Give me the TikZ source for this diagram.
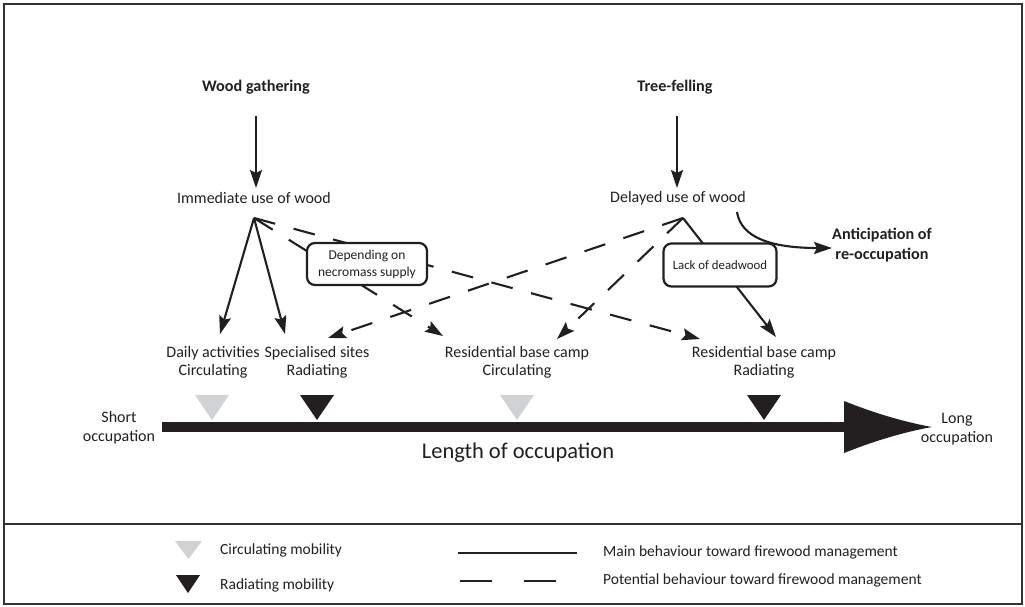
\documentclass[tikz,border=0pt]{standalone}
\usepackage{fontspec}
\setmainfont{Carlito}
\usetikzlibrary{arrows.meta}
\definecolor{ink}{HTML}{231F20}
\definecolor{lgray}{HTML}{D1D2D4}
\definecolor{frame}{HTML}{333333}
\begin{document}
\begin{tikzpicture}[x=1pt,y=-1pt,
  lbl/.style={font=\fontsize{16}{18}\selectfont, align=center, inner sep=0pt, text=ink},
  ttl/.style={font=\bfseries\fontsize{16.2}{20}\selectfont, align=center, inner sep=0pt, text=ink},
  occ/.style={font=\fontsize{16}{19}\selectfont, align=center, inner sep=0pt, text=ink},
  leg/.style={font=\fontsize{15.5}{18}\selectfont, inner sep=0pt, text=ink, anchor=west},
  main/.style={draw=ink, line width=2.1pt, -{Stealth[length=18pt,width=12pt,inset=3pt]}},
  pot/.style={main, dash pattern=on 22pt off 19pt},
  cbox/.style={draw=ink, line width=2.2pt, rounded corners=8pt, fill=white, align=center, inner sep=0pt, text=ink},
  circ/.style={fill=lgray},
  radi/.style={fill=ink}
]
\useasboundingbox (0,0) rectangle (1025,606);
\draw[frame, line width=2pt] (4,4) rectangle (1022,604);
\draw[frame, line width=2pt] (4,524) -- (1022,524);

% titles and intermediate texts
\node[ttl] (wg) at (256,87) {Wood gathering};
\node[ttl] (tf) at (675,87) {Tree-felling};
\node[lbl] (imm) at (254,198) {Immediate use of wood};
\node[lbl] (del) at (678,198) {Delayed use of wood};
\node[ttl] (ant) at (882,245) {Anticipation of\\re-occupation};

% target labels
\node[lbl] (daily) at (213,362) {Daily activities\\Circulating};
\node[lbl] (spec) at (317,362) {Specialised sites\\Radiating};
\node[lbl] (rbc) at (517,362) {Residential base camp\\Circulating};
\node[lbl] (rbr) at (764,362) {Residential base camp\\Radiating};

% connector end points
\coordinate (wg-s) at (256,116);
\coordinate (imm-n) at (256,188);
\coordinate (tf-s) at (677,116);
\coordinate (del-n) at (677,188);
\coordinate (imm-o) at (254,218);
\coordinate (del-o) at (683,218);
\coordinate (daily-t) at (220,334);
\coordinate (spec-t) at (285,334);
\coordinate (spec-t2) at (328,338);
\coordinate (rbc-t) at (443,336);
\coordinate (rbc-t2) at (557,339);
\coordinate (rbr-t) at (700,339);
\coordinate (rbr-t2) at (776,337);
\coordinate (ant-s) at (737,212);
\coordinate (ant-e) at (832,248);

\draw[main] (wg-s) -- (imm-n);
\draw[main] (tf-s) -- (del-n);
\draw[main] (imm-o) -- (daily-t);
\draw[main] (imm-o) -- (spec-t);
\draw[pot] (imm-o) -- (rbc-t);
\draw[pot] (imm-o) -- (rbr-t);
\draw[pot] (del-o) -- (spec-t2);
\draw[pot] (del-o) -- (rbc-t2);
\draw[main] (del-o) -- (rbr-t2);
\draw[main] (ant-s) .. controls (741,238) and (772,248) .. (ant-e);

% condition boxes
\node[cbox, minimum width=120pt, minimum height=42pt, font=\fontsize{13.5}{17}\selectfont] (dep) at (367,264) {Depending on\\necromass supply};
\node[cbox, minimum width=113pt, minimum height=43pt, font=\fontsize{12.8}{15}\selectfont] (lack) at (720,265) {Lack of deadwood};

% timeline
\fill[ink] (162,422) rectangle (846,432);
\fill[ink] (844,401) .. controls (874,413) and (904,422) .. (932,427) .. controls (904,432) and (874,441) .. (844,453) -- cycle;
\fill[circ] (195,395) -- (229,395) -- (212,420) -- cycle;
\fill[radi] (300,395) -- (334,395) -- (317,420) -- cycle;
\fill[circ] (500,395) -- (534,395) -- (517,420) -- cycle;
\fill[radi] (747,395) -- (781,395) -- (764,420) -- cycle;
\node[occ] (short) at (119,428) {Short\\occupation};
\node[occ] (long) at (957,429) {Long\\occupation};
\node[font=\fontsize{22.5}{26}\selectfont, inner sep=0pt, text=ink] (len) at (518,453) {Length of occupation};

% legend
\fill[circ] (175,541) -- (202,541) -- (188.5,559) -- cycle;
\fill[radi] (176,575) -- (200,575) -- (188,593) -- cycle;
\node[leg] (lc) at (220,550) {Circulating mobility};
\node[leg] (lr) at (220,585) {Radiating mobility};
\coordinate (lm1) at (458,553);
\coordinate (lm2) at (577,553);
\coordinate (lp1) at (460,581);
\coordinate (lp2) at (556,581);
\draw[ink, line width=2.2pt] (lm1) -- (lm2);
\draw[ink, line width=2.2pt, dash pattern=on 32pt off 32pt] (lp1) -- (lp2);
\node[leg] (lmain) at (603,552) {Main behaviour toward firewood management};
\node[leg] (lpot) at (603,580) {Potential behaviour toward firewood management};
\end{tikzpicture}
\end{document}
